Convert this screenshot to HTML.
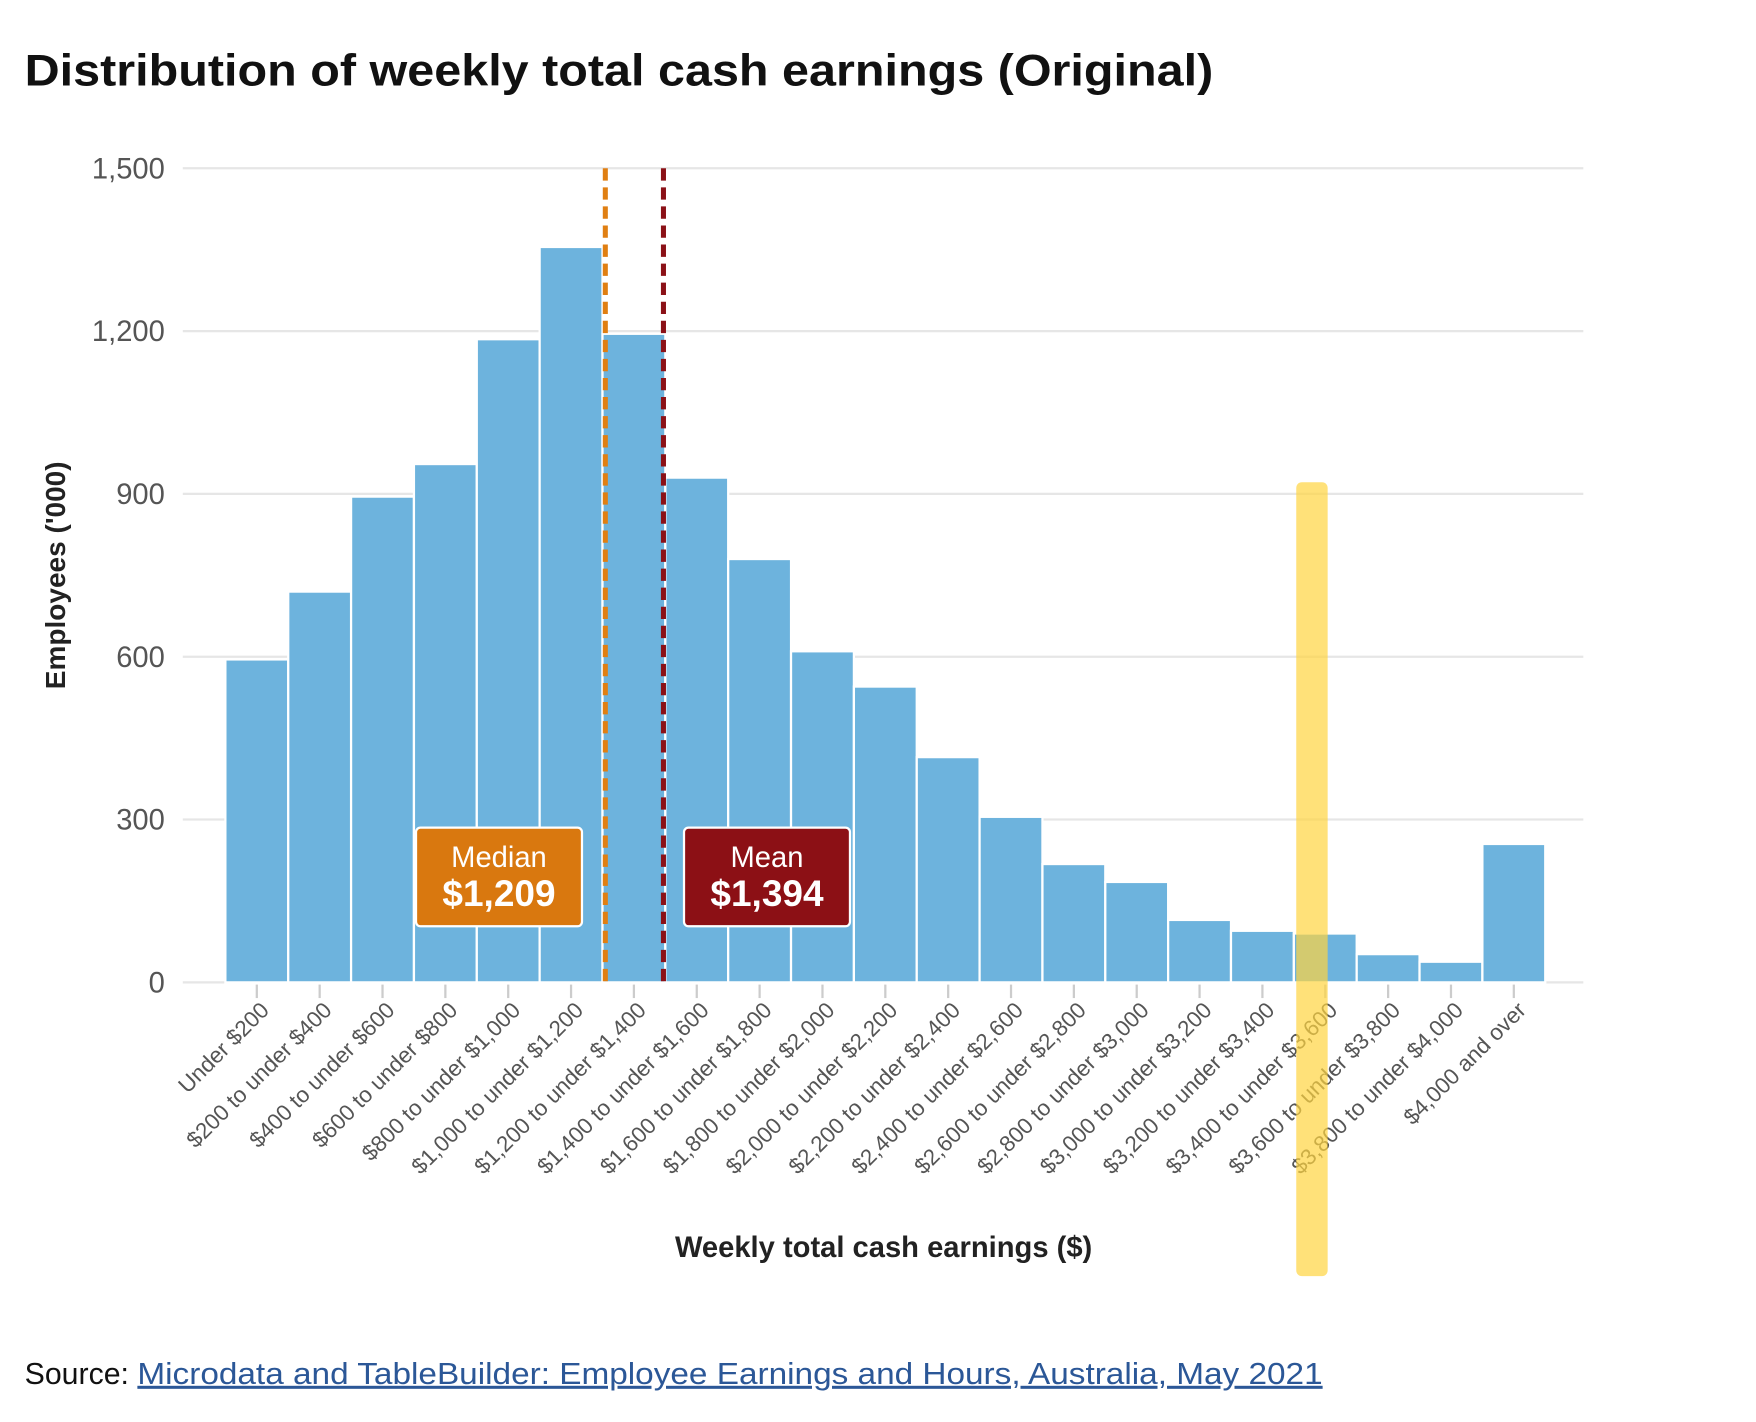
<!DOCTYPE html>
<html><head><meta charset="utf-8"><style>
html,body{margin:0;padding:0;background:#fff;width:1756px;height:1422px;overflow:hidden}
svg{display:block}
text{font-family:"Liberation Sans",sans-serif}
</style></head><body>
<svg id="chart" width="1756" height="1422" viewBox="0 0 1566 1268" xmlns="http://www.w3.org/2000/svg">
<text x="22" y="76" font-size="40" font-weight="bold" fill="#111" textLength="1060" lengthAdjust="spacingAndGlyphs">Distribution of weekly total cash earnings (Original)</text>
<g id="grid"></g>
<g id="bars"></g>
<g id="xlabels"></g>
<rect x="1156" y="430" width="28" height="708" rx="5" fill="#FFD440" opacity="0.7"/>
<g id="lines"></g>
<text transform="translate(58,513) rotate(-90)" text-anchor="middle" font-size="25" font-weight="bold" fill="#222">Employees ('000)</text>
<text x="788" y="1121" text-anchor="middle" font-size="26" font-weight="bold" fill="#222">Weekly total cash earnings ($)</text>
<text x="22" y="1234" font-size="27" fill="#111">Source: <tspan fill="#2b5797" text-decoration="underline" textLength="1057" lengthAdjust="spacingAndGlyphs">Microdata and TableBuilder: Employee Earnings and Hours, Australia, May 2021</tspan></text>
</svg>
<script>
const categories=["Under $200","$200 to under $400","$400 to under $600","$600 to under $800","$800 to under $1,000","$1,000 to under $1,200","$1,200 to under $1,400","$1,400 to under $1,600","$1,600 to under $1,800","$1,800 to under $2,000","$2,000 to under $2,200","$2,200 to under $2,400","$2,400 to under $2,600","$2,600 to under $2,800","$2,800 to under $3,000","$3,000 to under $3,200","$3,200 to under $3,400","$3,400 to under $3,600","$3,600 to under $3,800","$3,800 to under $4,000","$4,000 and over"];
const values=[595,720,895,955,1185,1355,1195,930,780,610,545,415,305,218,185,115,95,90,52,38,255];
const yTicks=[0,300,600,900,1200,1500];
const medianValue=1209;
const meanValue=1394;
const NS="http://www.w3.org/2000/svg";
const x0=201,bw=56.05,yBase=876,yTop=150,yMax=1500;
function y(v){return yBase-(v/yMax)*(yBase-yTop);}
function xb(i){return x0+i*bw;}
function xDollar(d){return x0+(d/200)*bw;}
function mk(tag,attrs,parent){const e=document.createElementNS(NS,tag);for(const k in attrs)e.setAttribute(k,attrs[k]);parent.appendChild(e);return e;}
const grid=document.getElementById('grid');
yTicks.forEach(t=>{
  const l=mk('line',{x1:163,x2:1412,y1:y(t),y2:y(t),stroke:'#e6e6e6','stroke-width':2},grid);
  
  
  const tx=mk('text',{x:147,y:y(t)+9,'text-anchor':'end','font-size':26,fill:'#555'},grid);
  tx.textContent=t.toLocaleString('en-US');
  
  
});
const bars=document.getElementById('bars');
values.forEach((v,i)=>{
  const r=mk('rect',{x:xb(i),y:y(v),width:bw,height:yBase-y(v),fill:'#6DB3DD',stroke:'#fff','stroke-width':2},bars);
  
  
});
const xl=document.getElementById('xlabels');
categories.forEach((c,i)=>{
  const cx=xb(i)+bw/2;
  const tk=mk('line',{x1:cx,x2:cx,y1:yBase+2,y2:yBase+14,stroke:'#ccc','stroke-width':2},xl);
  
  
  const t=mk('text',{transform:`translate(${cx+12},${yBase+26}) rotate(-45)`,'text-anchor':'end','font-size':20,fill:'#555'},xl);
  t.textContent=c;
  
  
});
const lines=document.getElementById('lines');
const mx=xDollar(medianValue), mn=xDollar(meanValue);
const ml=mk('line',{x1:mx,x2:mx,y1:yTop,y2:yBase,stroke:'#E07F12','stroke-width':4.5,'stroke-dasharray':'11 6'},lines);


const el=mk('line',{x1:mn,x2:mn,y1:yTop,y2:yBase,stroke:'#8B1117','stroke-width':4.5,'stroke-dasharray':'11 6'},lines);


function box(x,fill,label,val,name){
  const g=mk('g',{},lines);
  
  
  mk('rect',{x:x,y:738,width:148,height:88,rx:4,fill:fill,stroke:'#fff','stroke-width':2},g);
  const a=mk('text',{x:x+74,y:773,'text-anchor':'middle','font-size':26,fill:'#fff'},g);a.textContent=label;
  const b=mk('text',{x:x+74,y:808,'text-anchor':'middle','font-size':33,'font-weight':'bold',fill:'#fff'},g);b.textContent='$'+val.toLocaleString('en-US');
}
box(371,'#D9780F','Median',medianValue,'median-label');
box(610,'#8C1015','Mean',meanValue,'mean-label');
</script>
</body></html>
